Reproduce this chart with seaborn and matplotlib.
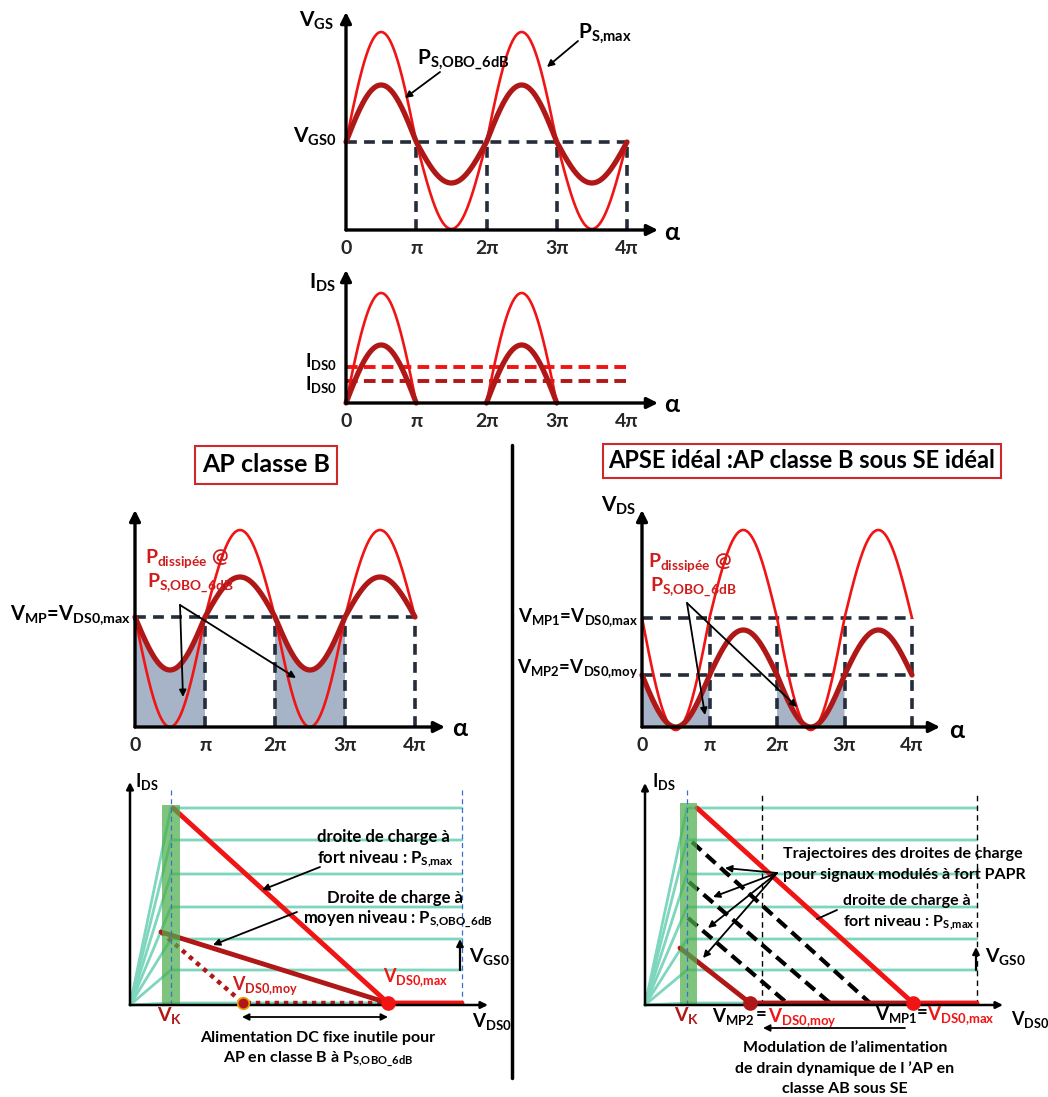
import numpy as np
import pandas as pd
import matplotlib
matplotlib.use("Agg")
import matplotlib.pyplot as plt
import seaborn as sns

sns.set_style("white")
plt.rcParams["font.family"] = ["Lato", "DejaVu Sans"]
plt.rcParams["font.weight"] = "bold"
plt.rcParams["mathtext.fontset"] = "custom"
plt.rcParams["mathtext.rm"] = "Lato:bold"
plt.rcParams["mathtext.it"] = "Lato:bold"
plt.rcParams["mathtext.bf"] = "Lato:bold"
plt.rcParams["mathtext.default"] = "bf"

ROUGE = "#f01414"
ROUGE_F = "#b01818"
ROUGE_T = "#d01c1c"
NAVY = "#252d3a"
GRIS = "#a7b3c6"
TURQ = "#7dd6bd"
VERT = "#4cae4c"
BLEU = "#3a6fd0"

# ---- valeurs (unites arbitraires) ----
ALPHA_TICKS = [0, 1, 2, 3, 4]          # multiples de pi
ALPHA_LABELS = ["0", "π", "2π", "3π", "4π"]

# V_GS : repos + amplitudes (haut, bas)
VGS0 = 88
VGS_MAX = (110, 87)
VGS_OBO = (57, 41)

# I_DS classe B : crete des demi-sinus et valeur moyenne
ARCHES = [0, 2]
IDS_MAX = 110
IDS_OBO = 58
IDS0_MAX = 36
IDS0_OBO = 22

# V_DS classe B (alimentation fixe) : (descente, montee)
VMP_B = 110
VDS_B_MAX = (110, 87)
VDS_B_OBO = (53, 40)

# V_DS sous SE ideal
VMP1 = 109
VMP2 = 52
VDS_SE_MAX = (112, 88)
VDS_SE_OBO = (52, 45)

# reseau I_DS(V_DS)
IDS_NIVEAUX = [2, 35, 66, 98, 131, 165, 197]
VK_B = 41
VK_SE = 42
BANDE_B = (32, 50, 200)
BANDE_SE = (35, 52, 202)
VDS_FIN = 332
CHARGE_MAX_B = ([43, 258], [197, 2])
CHARGE_OBO_B = ([31, 258], [73, 2])
VDS0_MOY_B = 113
CHARGE_MAX_SE = ([52, 268], [197, 2])
CHARGE_OBO_SE = ([35, 105], [57, 2])
TRAJ_X0 = [47, 44, 43]
TRAJ_Y0 = [163, 123, 87]
TRAJ_FIN_X = [225, 185, 142]
VDS_REPERE_SE = 117

W, H = 1048, 1097
fig = plt.figure(figsize=(W / 100, H / 100), dpi=100)


def panneau(x0, y0, x1, y1, ux=1.0, lw=2.4, ms=16):
    ax = fig.add_axes([x0 / W, 1 - y0 / H, (x1 - x0) / W, (y0 - y1) / H])
    ax.set_xlim(0, (x1 - x0) / ux)
    ax.set_ylim(0, y0 - y1)
    ax.patch.set_alpha(0)
    sns.despine(ax=ax, left=True, bottom=True)
    ax.set_xticks([])
    ax.set_yticks([])
    fl = dict(arrowstyle="-|>", color="k", lw=lw, mutation_scale=ms, shrinkA=0, shrinkB=0)
    for bout in [(1, 0), (0, 1)]:
        ax.annotate("", xy=bout, xytext=(0, 0), xycoords="axes fraction",
                    arrowprops=fl, annotation_clip=False, zorder=6)
    return ax


def ticks_alpha(ax):
    ax.set_xticks(ALPHA_TICKS)
    ax.set_xticklabels(ALPHA_LABELS)
    ax.tick_params(axis="x", length=0, pad=7, labelsize=14)


a = np.linspace(0, 4, 801)


def sinus(amp):
    s = np.sin(np.pi * a)
    return np.where(s > 0, amp[0] * s, amp[1] * s)


def courbe(ax, y, color, lw):
    sns.lineplot(x=a, y=y, ax=ax, color=color, lw=lw, estimator=None, sort=False)


def pointilles(ax, niveaux, fin, haut):
    for n in niveaux:
        ax.plot([0, 4], [n, n], color=NAVY, lw=2.6, ls=(0, (3, 2)))
    ax.vlines([1, 2, 3, 4], 0, haut, colors=NAVY, lw=2.6, linestyles=[(0, (3, 2))])


def sans_clip(ax):
    for l in ax.lines:
        l.set_clip_on(False)
    for c in ax.collections:
        c.set_clip_on(False)


# --- V_GS ---
ax1 = panneau(346, 230, 658, 12, ux=70.25)
ticks_alpha(ax1)
pointilles(ax1, [VGS0], 4, VGS0)
courbe(ax1, VGS0 + sinus(VGS_MAX), ROUGE, 1.9)
courbe(ax1, VGS0 + sinus(VGS_OBO), ROUGE_F, 3.8)
sans_clip(ax1)

# --- I_DS ---
ax2 = panneau(346, 403, 658, 270, ux=70.25)
ticks_alpha(ax2)
rows = []
for k in ARCHES:
    for t in np.linspace(0, 1, 101):
        rows.append({"alpha": k + t, "arche": k,
                     "max": IDS_MAX * np.sin(np.pi * t), "obo": IDS_OBO * np.sin(np.pi * t)})
df_ids = pd.DataFrame(rows)
ax2.plot([0, 4], [IDS0_MAX, IDS0_MAX], color=ROUGE, lw=2.8, ls=(0, (3, 1.6)))
ax2.plot([0, 4], [IDS0_OBO, IDS0_OBO], color=ROUGE_F, lw=2.8, ls=(0, (3, 1.6)))
sns.lineplot(data=df_ids, x="alpha", y="max", units="arche", estimator=None, ax=ax2, color=ROUGE, lw=1.9)
sns.lineplot(data=df_ids, x="alpha", y="obo", units="arche", estimator=None, ax=ax2, color=ROUGE_F, lw=3.8)
ax2.set_xlabel("")
ax2.set_ylabel("")
sans_clip(ax2)

zone = (a <= 1.0001) | ((a >= 1.9999) & (a <= 3.0001))

# --- V_DS classe B ---
ax3 = panneau(135, 727, 445, 510, ux=70)
ticks_alpha(ax3)
v_obo = VMP_B - sinus(VDS_B_OBO)
ax3.fill_between(a, 0, v_obo, where=zone, color=GRIS, lw=0)
pointilles(ax3, [VMP_B], 4, VMP_B)
courbe(ax3, VMP_B - sinus(VDS_B_MAX), ROUGE, 1.9)
courbe(ax3, v_obo, ROUGE_F, 3.8)
sans_clip(ax3)

# --- V_DS sous SE ---
ax4 = panneau(642, 727, 940, 510, ux=67.5)
ticks_alpha(ax4)
v_obo2 = VMP2 - sinus(VDS_SE_OBO)
ax4.fill_between(a, 0, v_obo2, where=zone, color=GRIS, lw=0)
pointilles(ax4, [VMP1, VMP2], 4, VMP1)
courbe(ax4, VMP1 - sinus(VDS_SE_MAX), ROUGE, 1.9)
courbe(ax4, v_obo2, ROUGE_F, 3.8)
sans_clip(ax4)


def reseau(ax, vk, bande):
    for n in IDS_NIVEAUX:
        ax.plot([0, vk, VDS_FIN], [0, n, n], color=TURQ, lw=2)
    ax.fill_betweenx([0, bande[2]], bande[0], bande[1], color=VERT, alpha=0.72, lw=0, zorder=4)
    ax.vlines(vk, 0, 215, colors=BLEU, lw=0.9, linestyles=[(0, (4, 3))], zorder=5)


# --- reseau classe B ---
ax5 = panneau(130, 1005, 488, 782, lw=1.8, ms=10)
reseau(ax5, VK_B, BANDE_B)
ax5.vlines(VDS_FIN, 0, 215, colors=BLEU, lw=0.9, linestyles=[(0, (4, 3))])
ax5.plot([CHARGE_OBO_B[0][0], VDS0_MOY_B, CHARGE_MAX_B[0][1]], [CHARGE_OBO_B[1][0], 2, 2],
         color=ROUGE_F, lw=3.2, ls=(0, (1, 1.1)), zorder=3)
sns.lineplot(x=CHARGE_OBO_B[0], y=CHARGE_OBO_B[1], ax=ax5, color=ROUGE_F, lw=3.5, zorder=3)
sns.lineplot(x=CHARGE_MAX_B[0] + [VDS_FIN], y=CHARGE_MAX_B[1] + [2], ax=ax5, color=ROUGE, lw=3.5,
             sort=False, estimator=None, zorder=3)
ax5.scatter([CHARGE_MAX_B[0][1]], [2], s=90, color=ROUGE, zorder=7)
ax5.scatter([VDS0_MOY_B], [2], s=70, color=ROUGE_F, edgecolor="#f0a000", lw=1.2, zorder=7)
sans_clip(ax5)

# --- reseau SE ---
ax6 = panneau(645, 1005, 1003, 783, lw=1.8, ms=10)
reseau(ax6, VK_SE, BANDE_SE)
ax6.vlines([VDS_REPERE_SE, VDS_FIN], 0, 212, colors="k", lw=1, linestyles=[(0, (4, 3))])
for x0, y0, xe in zip(TRAJ_X0, TRAJ_Y0, TRAJ_FIN_X):
    ax6.plot([x0, xe], [y0, 2], color="k", lw=3, ls=(0, (3, 1.6)), zorder=3)
sns.lineplot(x=CHARGE_OBO_SE[0] + [CHARGE_MAX_SE[0][1]], y=CHARGE_OBO_SE[1] + [2], ax=ax6,
             color=ROUGE_F, lw=3.5, sort=False, estimator=None, zorder=3)
sns.lineplot(x=CHARGE_MAX_SE[0] + [VDS_FIN], y=CHARGE_MAX_SE[1] + [2], ax=ax6, color=ROUGE, lw=3.5,
             sort=False, estimator=None, zorder=3)
ax6.scatter([CHARGE_MAX_SE[0][1]], [2], s=90, color=ROUGE, zorder=7)
ax6.scatter([CHARGE_OBO_SE[0][1]], [2], s=90, color=ROUGE_F, zorder=7)
sans_clip(ax6)

# --- textes et fleches (calque en pixels) ---
ov = fig.add_axes([0, 0, 1, 1], facecolor="none")
ov.set_xlim(0, W)
ov.set_ylim(H, 0)
ov.axis("off")


def txt(x, y, s, size=14, color="k", ha="left", va="baseline", **kw):
    ov.text(x, y, s, fontsize=size, color=color, ha=ha, va=va, fontweight="bold", **kw)


def fleche(x0, y0, x1, y1, lw=1.3, ms=10, style="-|>"):
    ov.annotate("", xy=(x1, y1), xytext=(x0, y0),
                arrowprops=dict(arrowstyle=style, color="k", lw=lw, mutation_scale=ms, shrinkA=0, shrinkB=0))


OBO = "$P_{S{,}OBO\\_6dB}$"

# haut
txt(334, 27, "$V_{GS}$", 15, ha="right")
txt(337, 143, "$V_{GS0}$", 15, ha="right")
txt(578, 37, "$P_{S{,}max}$", 15)
txt(417, 64, OBO, 15)
fleche(578, 41, 547, 67)
fleche(440, 72, 405, 98)
txt(672, 232, "α", 18, ha="center", va="center")
txt(336, 289, "$I_{DS}$", 15, ha="right")
txt(337, 367, "$I_{DS0}$", 13.5, ha="right")
txt(337, 390, "$I_{DS0}$", 13.5, ha="right")
txt(672, 405, "α", 18, ha="center", va="center")

# titres
txt(266, 465, "AP classe B", 18, ha="center", va="center",
    bbox=dict(boxstyle="square,pad=0.3", fc="white", ec="#d02828", lw=1.5))
txt(802, 461, "APSE idéal :AP classe B sous SE idéal", 17, ha="center", va="center",
    bbox=dict(boxstyle="square,pad=0.25", fc="white", ec="#d02828", lw=1.5))
ov.plot([512, 512], [445, 1078], color="k", lw=2.5)

# V_DS classe B
txt(131, 620, "$V_{MP}$=$V_{DS0{,}max}$", 14.5, ha="right")
txt(145, 563, "$P_{dissipée}$ @", 14, color=ROUGE_T)
txt(147, 588, OBO, 14, color=ROUGE_T)
fleche(180, 605, 183, 697)
fleche(180, 605, 296, 678)
txt(460, 729, "α", 18, ha="center", va="center")

# V_DS SE
txt(636, 512, "$V_{DS}$", 15, ha="right")
txt(638, 622, "$V_{MP1}$=$V_{DS0{,}max}$", 13.5, ha="right")
txt(638, 673, "$V_{MP2}$=$V_{DS0{,}moy}$", 13.5, ha="right")
txt(648, 567, "$P_{dissipée}$ @", 14, color=ROUGE_T)
txt(650, 592, OBO, 14, color=ROUGE_T)
fleche(687, 603, 705, 715)
fleche(687, 603, 797, 707)
txt(957, 730, "α", 18, ha="center", va="center")

# reseau classe B
txt(135, 787, "$I_{DS}$", 13)
txt(170, 1021, "$V_{K}$", 14, color=ROUGE_F, ha="center")
txt(232, 990, "$V_{DS0{,}moy}$", 13, color=ROUGE_T)
txt(383, 982, "$V_{DS0{,}max}$", 13, color=ROUGE)
txt(472, 1027, "$V_{DS0}$", 13.5)
txt(469, 962, "$V_{GS0}$", 14)
txt(317, 842, "droite de charge à", 12)
txt(317, 863, "fort niveau : $P_{S{,}max}$", 12)
txt(327, 903, "Droite de charge à", 12)
txt(303, 923, "moyen niveau : " + OBO, 12)
txt(318, 1042, "Alimentation DC fixe inutile pour", 11.5, ha="center")
txt(318, 1062, "AP en classe B à " + OBO, 11.5, ha="center")
fleche(320, 867, 262, 890)
fleche(297, 912, 213, 945)
fleche(460, 970, 460, 939, lw=1.6)
fleche(242, 1017, 388, 1017, style="<|-|>")

# reseau SE
txt(652, 787, "$I_{DS}$", 13)
txt(687, 1021, "$V_{K}$", 14, color=ROUGE_F, ha="center")
txt(712, 1022, "$V_{MP2}$", 13.5)
txt(756, 1020, "=", 13.5)
txt(768, 1022, "$V_{DS0{,}moy}$", 13.5, color=ROUGE)
txt(875, 1020, "$V_{MP1}$", 13.5)
txt(917, 1018, "=", 13.5)
txt(927, 1020, "$V_{DS0{,}max}$", 13.5, color=ROUGE)
txt(1011, 1025, "$V_{DS0}$", 13)
txt(985, 962, "$V_{GS0}$", 14)
txt(783, 858, "Trajectoires des droites de charge", 11.5)
txt(783, 879, "pour signaux modulés à fort PAPR", 11.5)
txt(843, 905, "droite de charge à", 11.5)
txt(843, 926, "fort niveau : $P_{S{,}max}$", 11.5)
for xe, ye in [(725, 868), (713, 897), (708, 928), (703, 958)]:
    fleche(777, 873, xe, ye)
ov.plot([837, 817], [910, 919], color="k", lw=1.3)
fleche(976, 970, 976, 947, lw=1.6)
fleche(905, 1028, 763, 1028)
txt(845, 1052, "Modulation de l’alimentation", 11.5, ha="center")
txt(845, 1073, "de drain dynamique de l ’AP en", 11.5, ha="center")
txt(845, 1093, "classe AB sous SE", 11.5, ha="center")

fig.savefig("out.png", dpi=100)
